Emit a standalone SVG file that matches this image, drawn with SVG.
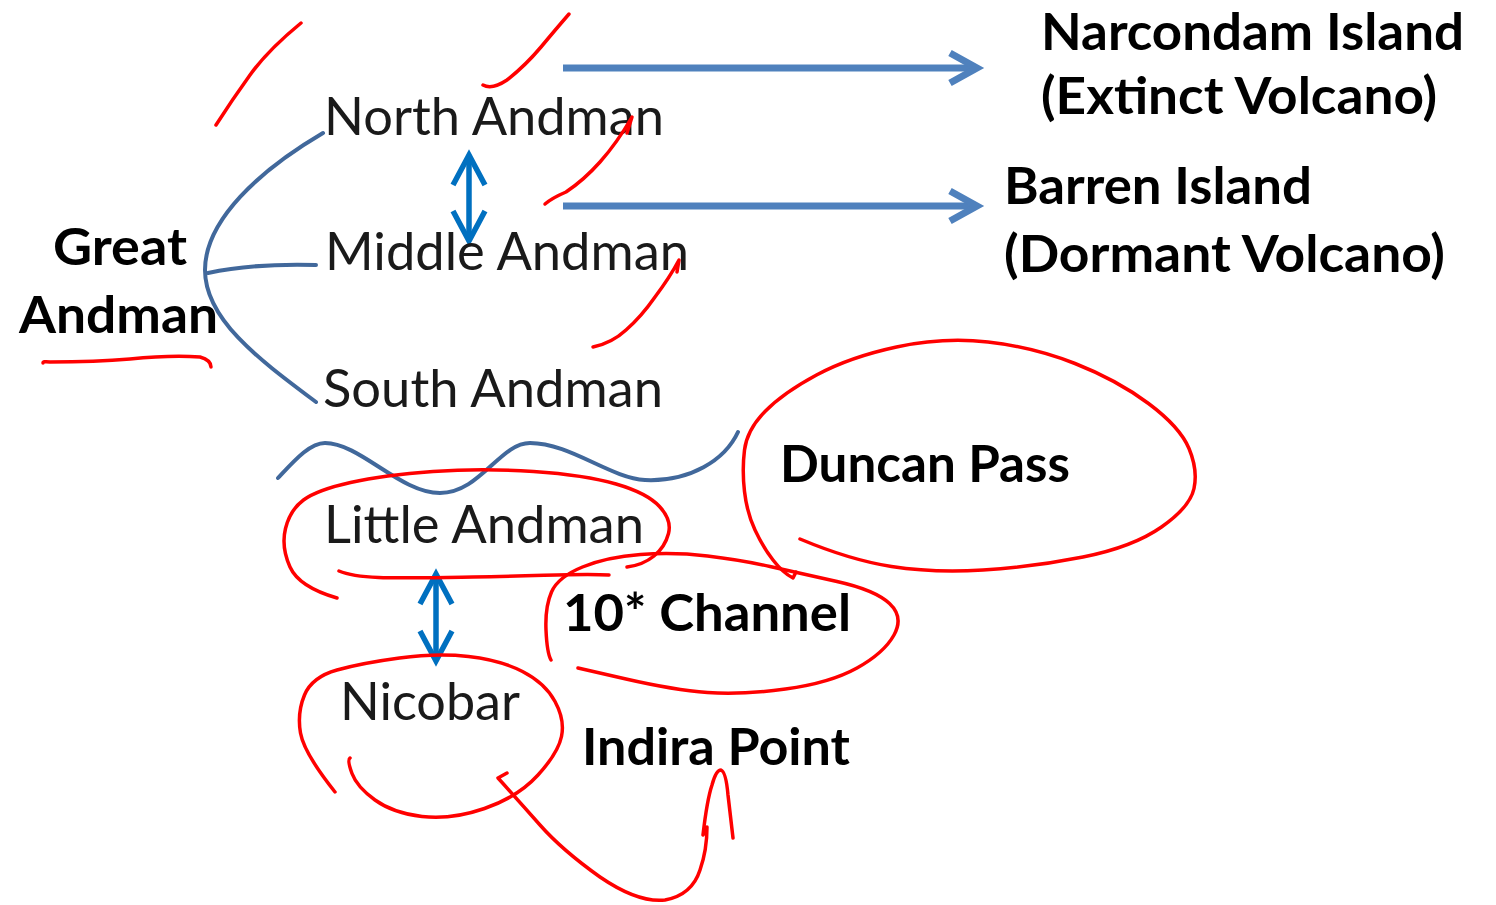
<svg xmlns="http://www.w3.org/2000/svg" width="1496" height="905" viewBox="0 0 1496 905">
<style>
.t{font-family:Lato,"Open Sans","Liberation Sans",sans-serif;font-size:52px;fill:#1a1a1a}
.b{font-family:Lato,"Open Sans","Liberation Sans",sans-serif;font-size:52px;font-weight:bold;fill:#000}
.harr{stroke:#4f81bd;stroke-width:7;fill:none}
.varr{stroke:#0070c0;stroke-width:5.5;fill:none}
.brk{stroke:#41689b;stroke-width:4;fill:none;stroke-linecap:round}
.red{stroke:#ff0000;stroke-width:3.5;fill:none;stroke-linecap:round;stroke-linejoin:round}
</style>
<defs>
<marker id="hhead" markerUnits="userSpaceOnUse" orient="auto" refX="0" refY="0" markerWidth="40" markerHeight="40" overflow="visible">
<path d="M-27,-15 L0,0 L-27,15" fill="none" stroke="#4f81bd" stroke-width="7"/>
</marker>
<marker id="vhead" markerUnits="userSpaceOnUse" orient="auto-start-reverse" refX="0" refY="0" markerWidth="40" markerHeight="40" overflow="visible">
<path d="M-30,-16 L0,0 L-30,16" fill="none" stroke="#0070c0" stroke-width="5.5"/>
</marker>
</defs>
<rect width="1496" height="905" fill="#fff"/>

<g id="connectors">
<path class="brk" d="M323,133 C260,170 205,220 205,270 C205,320 260,360 316,402"/>
<path class="brk" d="M208,273 C240,266 280,264 316,265"/>
<path class="brk" d="M278,478 C295,460 310,443 325,443 C360,443 400,493 440,493 C480,493 500,443 530,443 C570,443 610,478 645,480 C690,482 725,460 738,432"/>
<line class="harr" x1="563" y1="68" x2="977" y2="68" marker-end="url(#hhead)"/>
<line class="harr" x1="563" y1="206" x2="977" y2="206" marker-end="url(#hhead)"/>
<line class="varr" x1="469" y1="155" x2="469" y2="241" marker-start="url(#vhead)" marker-end="url(#vhead)"/>
<line class="varr" x1="436" y1="574" x2="436" y2="661" marker-start="url(#vhead)" marker-end="url(#vhead)"/>
</g>

<g id="great-andman"><text class="b" x="53" y="265" textLength="134" lengthAdjust="spacingAndGlyphs">Great</text><text class="b" x="19" y="333" textLength="199" lengthAdjust="spacingAndGlyphs">Andman</text></g>
<g id="north-andman"><text class="t" x="324" y="135" textLength="340" lengthAdjust="spacingAndGlyphs">North Andman</text></g>
<g id="middle-andman"><text class="t" x="325" y="270" textLength="364" lengthAdjust="spacingAndGlyphs">Middle Andman</text></g>
<g id="south-andman"><text class="t" x="323" y="407" textLength="340" lengthAdjust="spacingAndGlyphs">South Andman</text></g>
<g id="little-andman"><text class="t" x="324" y="543" textLength="320" lengthAdjust="spacingAndGlyphs">Little Andman</text></g>
<g id="nicobar"><text class="t" x="340" y="720" textLength="180" lengthAdjust="spacingAndGlyphs">Nicobar</text></g>
<g id="narcondam"><text class="b" x="1041" y="50" font-size="50" textLength="423" lengthAdjust="spacingAndGlyphs">Narcondam Island</text><text class="b" x="1041" y="114" textLength="396" lengthAdjust="spacingAndGlyphs">(Extinct Volcano)</text></g>
<g id="barren"><text class="b" x="1004" y="204" textLength="308" lengthAdjust="spacingAndGlyphs">Barren Island</text><text class="b" x="1004" y="272" textLength="441" lengthAdjust="spacingAndGlyphs">(Dormant Volcano)</text></g>
<g id="duncan-pass"><text class="b" x="780" y="482" textLength="290" lengthAdjust="spacingAndGlyphs">Duncan Pass</text></g>
<g id="ten-channel"><text class="b" x="563" y="631" textLength="288" lengthAdjust="spacingAndGlyphs">10* Channel</text></g>
<g id="indira-point"><text class="b" x="582" y="765" textLength="268" lengthAdjust="spacingAndGlyphs">Indira Point</text></g>

<g id="annotations">
<path class="red" d="M301,23 Q268,50 250,75 Q232,100 216,125"/>
<path class="red" d="M483,85 Q492,90 507,80 Q525,66 541,47 Q556,29 569,14"/>
<path class="red" d="M545,204 Q552,198 566,192 Q584,180 600,162 Q617,143 632,117 L627,133"/>
<path class="red" d="M593,347 Q612,343 626,330 Q641,317 655,297 Q670,277 679,260 L677,272"/>
<path class="red" d="M43,363 Q43,361 50,362 Q96,362 130,359 Q170,355 200,357 Q211,360 211,367"/>
<path class="red" d="M800,539 Q850,560 891.5,566.5 Q933,573 983,570 Q1033,567 1083,557 Q1133,547 1161.5,527 Q1190,507 1194,488.5 Q1198,470 1189,448.5 Q1180,427 1148.5,403.5 Q1117,380 1075,363.5 Q1033,347 988,342 Q943,337 896.5,347 Q850,357 816.5,375 Q783,393 765,411.5 Q747,430 744.5,450 Q742,470 744.5,491.5 Q747,513 755,530 Q763,547 773,560 Q783,573 793,578 L796,572"/>
<path class="red" d="M337,598 Q299,587 290,567 Q281,547 285.5,528.5 Q290,510 303.5,500 Q317,490 350.5,482.5 Q384,475 433,471.5 Q482,468 533.5,471.5 Q585,475 616,484 Q647,493 659.5,506.5 Q672,520 668.5,533.5 Q665,547 654,556 Q643,565 627,567"/>
<path class="red" d="M339,571 C360,580 400,578 473,577 S580,573 609,575"/>
<path class="red" d="M551,660 Q547,653 546,630 Q545,607 551.5,592 Q558,577 582.5,567 Q607,557 640.5,554.5 Q674,552 707.5,556 Q741,560 770,566.5 Q799,573 837,581.5 Q875,590 889.5,603.5 Q904,617 894,635 Q884,653 857,668 Q830,683 785.5,689 Q741,695 707.5,692.5 Q674,690 626,679 L578,668"/>
<path class="red" d="M335,792 Q304,753 300.5,733 Q297,713 304.5,695 Q312,677 337,670 Q362,663 399.5,658 Q437,653 468.5,656.5 Q500,660 522.5,671.5 Q545,683 555,701.5 Q565,720 561.5,736.5 Q558,753 538,775 Q518,797 484.5,808.5 Q451,820 422,816.5 Q393,813 375,800 Q357,787 352,773.5 Q347,760 350,758"/>
<path class="red" d="M507,773 L498,778 Q518,800 540,825 Q562,850 600,877 Q638,903 665,900 Q692,895 700,870 Q707,850 707,827 L703,835 Q707,800 712,785 Q716,770 721,770 Q726,772 728,795 L733,838"/>
</g>
</svg>
